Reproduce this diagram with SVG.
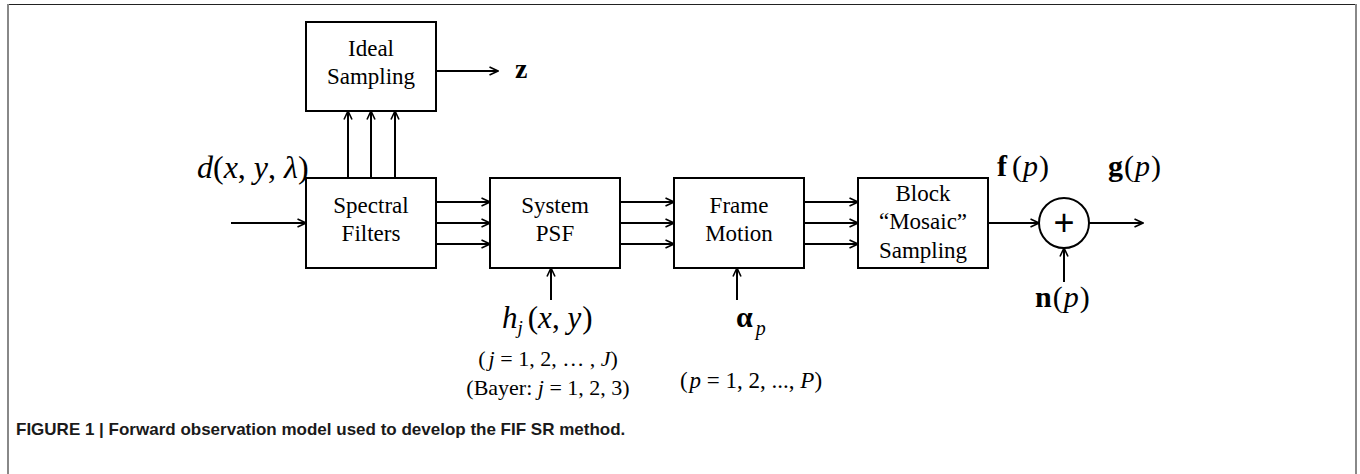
<svg xmlns="http://www.w3.org/2000/svg" width="1360" height="474" viewBox="0 0 1360 474">
<style>
.box{fill:#fff;stroke:#000;stroke-width:2}
.lbl{font-family:"Liberation Serif","Times New Roman",serif;font-size:23px;fill:#000;text-anchor:middle}
.math{font-family:"Liberation Serif","Times New Roman",serif;fill:#000}
.it{font-style:italic}
.b{font-weight:bold}
.c{stroke:#000;stroke-width:2;fill:none;marker-end:url(#ah)}
.cap{font-family:"Liberation Sans",Arial,sans-serif;font-weight:bold;font-size:17px;fill:#1a1a1a}
</style>
<defs>
<marker id="ah" markerUnits="userSpaceOnUse" viewBox="0 0 10 10" refX="9.5" refY="5" markerWidth="10" markerHeight="10" orient="auto">
<path d="M1,1 L9.5,5 L1,9" fill="none" stroke="#000" stroke-width="1.6"/>
</marker>
</defs>
<rect width="1360" height="474" fill="#fff"/>
<g id="frame">
<line x1="7" y1="4.5" x2="1357" y2="4.5" stroke="#222" stroke-width="1.2"/>
<line x1="8" y1="4" x2="8" y2="474" stroke="#888" stroke-width="2"/>
<line x1="1356" y1="4" x2="1356" y2="474" stroke="#888" stroke-width="2"/>
</g>
<g id="connectors">
<line class="c" x1="436" y1="71" x2="498" y2="71"/>
<line class="c" x1="348" y1="178" x2="348" y2="111"/>
<line class="c" x1="371" y1="178" x2="371" y2="111"/>
<line class="c" x1="395" y1="178" x2="395" y2="111"/>
<line class="c" x1="231" y1="223" x2="306" y2="223"/>
<line class="c" x1="436" y1="202" x2="490" y2="202"/>
<line class="c" x1="436" y1="223" x2="490" y2="223"/>
<line class="c" x1="436" y1="244" x2="490" y2="244"/>
<line class="c" x1="620" y1="202" x2="674" y2="202"/>
<line class="c" x1="620" y1="223" x2="674" y2="223"/>
<line class="c" x1="620" y1="244" x2="674" y2="244"/>
<line class="c" x1="804" y1="202" x2="858" y2="202"/>
<line class="c" x1="804" y1="223" x2="858" y2="223"/>
<line class="c" x1="804" y1="244" x2="858" y2="244"/>
<line class="c" x1="551" y1="300" x2="551" y2="268"/>
<line class="c" x1="737" y1="300" x2="737" y2="268"/>
<line class="c" x1="988" y1="223" x2="1039" y2="223"/>
<line class="c" x1="1089" y1="223" x2="1143" y2="223"/>
<line class="c" x1="1064" y1="282" x2="1064" y2="248"/>
</g>
<g id="ideal-sampling">
<rect class="box" x="306" y="22" width="130" height="89"/>
<text class="lbl" x="371" y="56">Ideal</text>
<text class="lbl" x="371" y="84">Sampling</text>
</g>
<g id="spectral-filters">
<rect class="box" x="306" y="178" width="130" height="90"/>
<text class="lbl" x="371" y="213">Spectral</text>
<text class="lbl" x="371" y="241">Filters</text>
</g>
<g id="system-psf">
<rect class="box" x="490" y="178" width="130" height="90"/>
<text class="lbl" x="555" y="213">System</text>
<text class="lbl" x="555" y="241">PSF</text>
</g>
<g id="frame-motion">
<rect class="box" x="674" y="178" width="130" height="90"/>
<text class="lbl" x="739" y="213">Frame</text>
<text class="lbl" x="739" y="241">Motion</text>
</g>
<g id="block-mosaic">
<rect class="box" x="858" y="178" width="130" height="90"/>
<text class="lbl" x="923" y="201">Block</text>
<text class="lbl" x="923" y="229">“Mosaic”</text>
<text class="lbl" x="923" y="258">Sampling</text>
</g>
<g id="adder">
<circle cx="1064" cy="223" r="25" fill="#fff" stroke="#000" stroke-width="2"/>
<text x="1064" y="235" font-family="Liberation Sans,Arial,sans-serif" font-size="36" text-anchor="middle">+</text>
</g>
<g id="labels">
<text class="math" x="515" y="78" font-size="28"><tspan class="b">z</tspan></text>
<text class="math" x="197" y="178" font-size="32"><tspan class="it">d</tspan>(<tspan class="it">x</tspan>, <tspan class="it">y</tspan>, <tspan class="it">λ</tspan>)</text>
<text class="math" x="502" y="328" font-size="31"><tspan class="it">h</tspan><tspan class="it" font-size="19" dy="6">j</tspan><tspan dx="5" dy="-6">(</tspan><tspan class="it">x</tspan>, <tspan class="it">y</tspan><tspan dx="1">)</tspan></text>
<text class="math" x="548" y="366" font-size="22" text-anchor="middle">(<tspan class="it" dx="3">j</tspan> = 1, 2, … , <tspan class="it">J</tspan>)</text>
<text class="math" x="548" y="395" font-size="22" text-anchor="middle">(Bayer: <tspan class="it">j</tspan> = 1, 2, 3)</text>
<text class="math" x="736" y="327" font-size="30"><tspan class="b">α</tspan><tspan class="it" font-size="20" dx="3" dy="8">p</tspan></text>
<text class="math" x="751" y="388" font-size="23" text-anchor="middle">(<tspan class="it" dx="2">p</tspan> = 1, 2, ..., <tspan class="it">P</tspan>)</text>
<text class="math" x="997" y="176" font-size="30"><tspan class="b">f</tspan><tspan dx="5">(</tspan><tspan class="it" dx="1">p</tspan><tspan dx="1">)</tspan></text>
<text class="math" x="1108" y="176" font-size="30"><tspan class="b">g</tspan><tspan dx="1">(</tspan><tspan class="it" dx="1">p</tspan><tspan dx="1">)</tspan></text>
<text class="math" x="1035" y="307" font-size="30"><tspan class="b">n</tspan><tspan dx="1">(</tspan><tspan class="it" dx="1">p</tspan><tspan dx="1">)</tspan></text>
</g>
<text class="cap" x="16" y="435">FIGURE 1 | Forward observation model used to develop the FIF SR method.</text>
</svg>
